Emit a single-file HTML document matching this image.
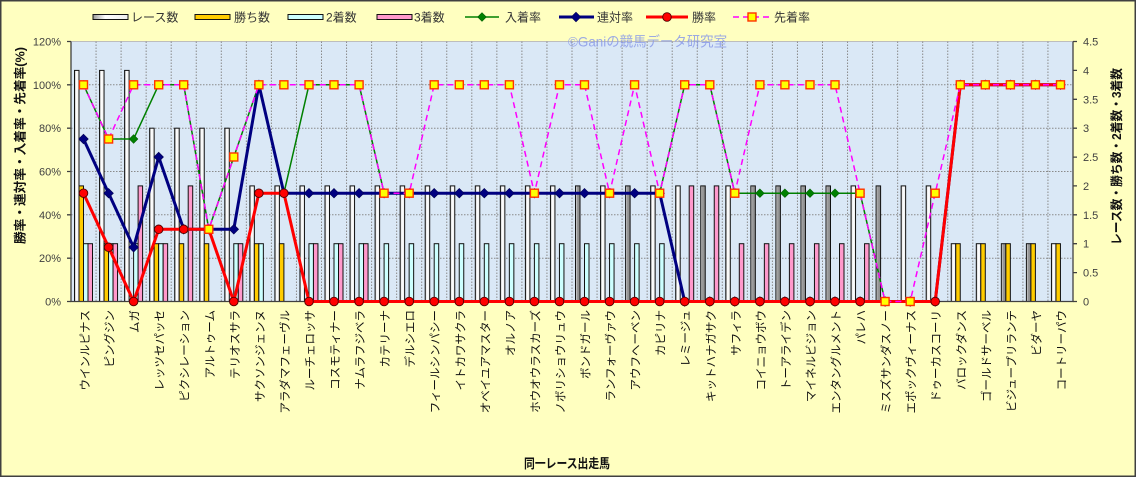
<!DOCTYPE html>
<html><head><meta charset="utf-8">
<style>
html,body{margin:0;padding:0;background:#FFFFC0;}
svg{display:block;}
text{font-family:"Liberation Sans","Noto Sans CJK JP",sans-serif;}
.r{fill:url(#gw);stroke:#111;stroke-width:1}
.rg{fill:url(#gg);stroke:#111;stroke-width:1}
.w{fill:#FFCC00;stroke:#111;stroke-width:1}
.s{fill:#CCFFFF;stroke:#111;stroke-width:1}
.t{fill:#FF99CC;stroke:#111;stroke-width:1}
.ax{font-size:11px;fill:#404040}
.xl{font-size:11.5px;fill:#111}
.lg{font-size:12px;fill:#333}
</style></head>
<body>
<svg width="1136" height="477" viewBox="0 0 1136 477" xmlns="http://www.w3.org/2000/svg">
<defs>
<linearGradient id="gw" x1="0" y1="0" x2="1" y2="0"><stop offset="0" stop-color="#9a9a9a"/><stop offset="0.35" stop-color="#ffffff"/><stop offset="1" stop-color="#eeeeee"/></linearGradient>
<linearGradient id="gg" x1="0" y1="0" x2="1" y2="0"><stop offset="0" stop-color="#ffffff"/><stop offset="0.35" stop-color="#999999"/><stop offset="1" stop-color="#8c8c8c"/></linearGradient>
<marker id="mg" viewBox="-6 -6 12 12" refX="0" refY="0" markerWidth="12" markerHeight="12" markerUnits="userSpaceOnUse" orient="0"><polygon points="0,-4.3 4.3,0 0,4.3 -4.3,0" fill="#008000" stroke="#006000" stroke-width="0.6"/></marker>
<marker id="mb" viewBox="-6 -6 12 12" refX="0" refY="0" markerWidth="12" markerHeight="12" markerUnits="userSpaceOnUse" orient="0"><polygon points="0,-4.8 4.8,0 0,4.8 -4.8,0" fill="#000080" stroke="#000050" stroke-width="0.6"/></marker>
<marker id="mr" viewBox="-6 -6 12 12" refX="0" refY="0" markerWidth="12" markerHeight="12" markerUnits="userSpaceOnUse" orient="0"><circle cx="0" cy="0" r="4.3" fill="#FF0000" stroke="#500000" stroke-width="0.9"/></marker>
<marker id="ms" viewBox="-6 -6 12 12" refX="0" refY="0" markerWidth="12" markerHeight="12" markerUnits="userSpaceOnUse" orient="0"><rect x="-4" y="-4" width="8" height="8" fill="#FFFF00" stroke="#FF3300" stroke-width="1.4"/></marker>
</defs>

<!-- outer -->
<rect x="0.75" y="0.75" width="1134.5" height="475.5" fill="#FFFFC0" stroke="#404040" stroke-width="1.5"/>

<!-- legend -->
<rect x="93" y="14.5" width="35" height="5" fill="url(#gw)" stroke="#111"/>
<text class="lg" x="131" y="21.5">レース数</text>
<rect x="195" y="14.5" width="35" height="5" fill="#FFCC00" stroke="#111"/>
<text class="lg" x="234" y="21.5">勝ち数</text>
<rect x="288" y="14.5" width="35" height="5" fill="#CCFFFF" stroke="#111"/>
<text class="lg" x="326" y="21.5">2着数</text>
<rect x="377" y="14.5" width="35" height="5" fill="#FF99CC" stroke="#111"/>
<text class="lg" x="414" y="21.5">3着数</text>
<polyline points="465,17 482,17 499,17" fill="none" stroke="#008000" stroke-width="1.5" marker-mid="url(#mg)"/>
<text class="lg" x="505" y="21.5">入着率</text>
<polyline points="559,17 576,17 594,17" fill="none" stroke="#000080" stroke-width="3" marker-mid="url(#mb)"/>
<text class="lg" x="597" y="21.5">連対率</text>
<polyline points="646,17 667,17 688,17" fill="none" stroke="#FF0000" stroke-width="3" marker-mid="url(#mr)"/>
<text class="lg" x="692" y="21.5">勝率</text>
<polyline points="733,17 752,17 771,17" fill="none" stroke="#FF00FF" stroke-width="1.5" stroke-dasharray="6,4" marker-mid="url(#ms)"/>
<text class="lg" x="774" y="21.5">先着率</text>

<!-- plot area -->
<rect x="71" y="41.5" width="1002" height="260" fill="#DAE8F6" stroke="#BDBDBD" stroke-width="1"/>
<g stroke="#8a8a8a" stroke-width="1" stroke-dasharray="1.5,1.5" fill="none">
<path d="M71 258.2H1073M71 214.8H1073M71 171.5H1073M71 128.2H1073M71 84.8H1073"/>
<path d="M96.05 41.5V301.5M121.1 41.5V301.5M146.15 41.5V301.5M171.2 41.5V301.5M196.25 41.5V301.5M221.3 41.5V301.5M246.35 41.5V301.5M271.4 41.5V301.5M296.45 41.5V301.5M321.5 41.5V301.5M346.55 41.5V301.5M371.6 41.5V301.5M396.65 41.5V301.5M421.7 41.5V301.5M446.75 41.5V301.5M471.8 41.5V301.5M496.85 41.5V301.5M521.9 41.5V301.5M546.95 41.5V301.5M572 41.5V301.5M597.05 41.5V301.5M622.1 41.5V301.5M647.15 41.5V301.5M672.2 41.5V301.5M697.25 41.5V301.5M722.3 41.5V301.5M747.35 41.5V301.5M772.4 41.5V301.5M797.45 41.5V301.5M822.5 41.5V301.5M847.55 41.5V301.5M872.6 41.5V301.5M897.65 41.5V301.5M922.7 41.5V301.5M947.75 41.5V301.5M972.8 41.5V301.5M997.85 41.5V301.5M1022.9 41.5V301.5M1047.95 41.5V301.5"/>
</g>

<!-- watermark -->
<text x="568" y="46.5" font-size="14" fill="#8A9AE8" fill-opacity="0.85" textLength="159" lengthAdjust="spacingAndGlyphs">©Ganiの競馬データ研究室</text>

<!-- bars -->
<g transform="translate(71,0)"><rect class="r" x="3.5" y="70.4" width="4.5" height="231.1"/><rect class="w" x="8" y="185.9" width="4.5" height="115.6"/><rect class="s" x="12.5" y="243.7" width="4.5" height="57.8"/><rect class="t" x="17" y="243.7" width="4.5" height="57.8"/></g>
<g transform="translate(96.05,0)"><rect class="r" x="3.5" y="70.4" width="4.5" height="231.1"/><rect class="w" x="8" y="243.7" width="4.5" height="57.8"/><rect class="s" x="12.5" y="243.7" width="4.5" height="57.8"/><rect class="t" x="17" y="243.7" width="4.5" height="57.8"/></g>
<g transform="translate(121.1,0)"><rect class="r" x="3.5" y="70.4" width="4.5" height="231.1"/><rect class="s" x="12.5" y="243.7" width="4.5" height="57.8"/><rect class="t" x="17" y="185.9" width="4.5" height="115.6"/></g>
<g transform="translate(146.15,0)"><rect class="r" x="3.5" y="128.2" width="4.5" height="173.3"/><rect class="w" x="8" y="243.7" width="4.5" height="57.8"/><rect class="s" x="12.5" y="243.7" width="4.5" height="57.8"/><rect class="t" x="17" y="243.7" width="4.5" height="57.8"/></g>
<g transform="translate(171.2,0)"><rect class="r" x="3.5" y="128.2" width="4.5" height="173.3"/><rect class="w" x="8" y="243.7" width="4.5" height="57.8"/><rect class="t" x="17" y="185.9" width="4.5" height="115.6"/></g>
<g transform="translate(196.25,0)"><rect class="r" x="3.5" y="128.2" width="4.5" height="173.3"/><rect class="w" x="8" y="243.7" width="4.5" height="57.8"/></g>
<g transform="translate(221.3,0)"><rect class="r" x="3.5" y="128.2" width="4.5" height="173.3"/><rect class="s" x="12.5" y="243.7" width="4.5" height="57.8"/><rect class="t" x="17" y="243.7" width="4.5" height="57.8"/></g>
<g transform="translate(246.35,0)"><rect class="r" x="3.5" y="185.9" width="4.5" height="115.6"/><rect class="w" x="8" y="243.7" width="4.5" height="57.8"/><rect class="s" x="12.5" y="243.7" width="4.5" height="57.8"/></g>
<g transform="translate(271.4,0)"><rect class="r" x="3.5" y="185.9" width="4.5" height="115.6"/><rect class="w" x="8" y="243.7" width="4.5" height="57.8"/></g>
<g transform="translate(296.45,0)"><rect class="r" x="3.5" y="185.9" width="4.5" height="115.6"/><rect class="s" x="12.5" y="243.7" width="4.5" height="57.8"/><rect class="t" x="17" y="243.7" width="4.5" height="57.8"/></g>
<g transform="translate(321.5,0)"><rect class="r" x="3.5" y="185.9" width="4.5" height="115.6"/><rect class="s" x="12.5" y="243.7" width="4.5" height="57.8"/><rect class="t" x="17" y="243.7" width="4.5" height="57.8"/></g>
<g transform="translate(346.55,0)"><rect class="r" x="3.5" y="185.9" width="4.5" height="115.6"/><rect class="s" x="12.5" y="243.7" width="4.5" height="57.8"/><rect class="t" x="17" y="243.7" width="4.5" height="57.8"/></g>
<g transform="translate(371.6,0)"><rect class="r" x="3.5" y="185.9" width="4.5" height="115.6"/><rect class="s" x="12.5" y="243.7" width="4.5" height="57.8"/></g>
<g transform="translate(396.65,0)"><rect class="r" x="3.5" y="185.9" width="4.5" height="115.6"/><rect class="s" x="12.5" y="243.7" width="4.5" height="57.8"/></g>
<g transform="translate(421.7,0)"><rect class="r" x="3.5" y="185.9" width="4.5" height="115.6"/><rect class="s" x="12.5" y="243.7" width="4.5" height="57.8"/></g>
<g transform="translate(446.75,0)"><rect class="r" x="3.5" y="185.9" width="4.5" height="115.6"/><rect class="s" x="12.5" y="243.7" width="4.5" height="57.8"/></g>
<g transform="translate(471.8,0)"><rect class="r" x="3.5" y="185.9" width="4.5" height="115.6"/><rect class="s" x="12.5" y="243.7" width="4.5" height="57.8"/></g>
<g transform="translate(496.85,0)"><rect class="r" x="3.5" y="185.9" width="4.5" height="115.6"/><rect class="s" x="12.5" y="243.7" width="4.5" height="57.8"/></g>
<g transform="translate(521.9,0)"><rect class="r" x="3.5" y="185.9" width="4.5" height="115.6"/><rect class="s" x="12.5" y="243.7" width="4.5" height="57.8"/></g>
<g transform="translate(546.95,0)"><rect class="r" x="3.5" y="185.9" width="4.5" height="115.6"/><rect class="s" x="12.5" y="243.7" width="4.5" height="57.8"/></g>
<g transform="translate(572,0)"><rect class="rg" x="3.5" y="185.9" width="4.5" height="115.6"/><rect class="s" x="12.5" y="243.7" width="4.5" height="57.8"/></g>
<g transform="translate(597.05,0)"><rect class="r" x="3.5" y="185.9" width="4.5" height="115.6"/><rect class="s" x="12.5" y="243.7" width="4.5" height="57.8"/></g>
<g transform="translate(622.1,0)"><rect class="rg" x="3.5" y="185.9" width="4.5" height="115.6"/><rect class="s" x="12.5" y="243.7" width="4.5" height="57.8"/></g>
<g transform="translate(647.15,0)"><rect class="r" x="3.5" y="185.9" width="4.5" height="115.6"/><rect class="s" x="12.5" y="243.7" width="4.5" height="57.8"/></g>
<g transform="translate(672.2,0)"><rect class="r" x="3.5" y="185.9" width="4.5" height="115.6"/><rect class="t" x="17" y="185.9" width="4.5" height="115.6"/></g>
<g transform="translate(697.25,0)"><rect class="rg" x="3.5" y="185.9" width="4.5" height="115.6"/><rect class="t" x="17" y="185.9" width="4.5" height="115.6"/></g>
<g transform="translate(722.3,0)"><rect class="r" x="3.5" y="185.9" width="4.5" height="115.6"/><rect class="t" x="17" y="243.7" width="4.5" height="57.8"/></g>
<g transform="translate(747.35,0)"><rect class="rg" x="3.5" y="185.9" width="4.5" height="115.6"/><rect class="t" x="17" y="243.7" width="4.5" height="57.8"/></g>
<g transform="translate(772.4,0)"><rect class="rg" x="3.5" y="185.9" width="4.5" height="115.6"/><rect class="t" x="17" y="243.7" width="4.5" height="57.8"/></g>
<g transform="translate(797.45,0)"><rect class="rg" x="3.5" y="185.9" width="4.5" height="115.6"/><rect class="t" x="17" y="243.7" width="4.5" height="57.8"/></g>
<g transform="translate(822.5,0)"><rect class="rg" x="3.5" y="185.9" width="4.5" height="115.6"/><rect class="t" x="17" y="243.7" width="4.5" height="57.8"/></g>
<g transform="translate(847.55,0)"><rect class="r" x="3.5" y="185.9" width="4.5" height="115.6"/><rect class="t" x="17" y="243.7" width="4.5" height="57.8"/></g>
<g transform="translate(872.6,0)"><rect class="rg" x="3.5" y="185.9" width="4.5" height="115.6"/></g>
<g transform="translate(897.65,0)"><rect class="r" x="3.5" y="185.9" width="4.5" height="115.6"/></g>
<g transform="translate(922.7,0)"><rect class="r" x="3.5" y="185.9" width="4.5" height="115.6"/></g>
<g transform="translate(947.75,0)"><rect class="r" x="3.5" y="243.7" width="4.5" height="57.8"/><rect class="w" x="8" y="243.7" width="4.5" height="57.8"/></g>
<g transform="translate(972.8,0)"><rect class="r" x="3.5" y="243.7" width="4.5" height="57.8"/><rect class="w" x="8" y="243.7" width="4.5" height="57.8"/></g>
<g transform="translate(997.85,0)"><rect class="rg" x="3.5" y="243.7" width="4.5" height="57.8"/><rect class="w" x="8" y="243.7" width="4.5" height="57.8"/></g>
<g transform="translate(1022.9,0)"><rect class="rg" x="3.5" y="243.7" width="4.5" height="57.8"/><rect class="w" x="8" y="243.7" width="4.5" height="57.8"/></g>
<g transform="translate(1047.95,0)"><rect class="r" x="3.5" y="243.7" width="4.5" height="57.8"/><rect class="w" x="8" y="243.7" width="4.5" height="57.8"/></g>

<!-- axes -->
<g stroke="#404040" stroke-width="1.3" fill="none">
<path d="M71 41.5V301.5H1073V41.5"/>
<path d="M67 301.5H71M67 258.2H71M67 214.8H71M67 171.5H71M67 128.2H71M67 84.8H71M67 41.5H71"/>
<path d="M1073 301.5H1077M1073 272.6H1077M1073 243.7H1077M1073 214.8H1077M1073 185.9H1077M1073 157.1H1077M1073 128.2H1077M1073 99.3H1077M1073 70.4H1077M1073 41.5H1077"/>
</g>

<!-- lines -->
<polyline fill="none" stroke="#008000" stroke-width="1.5" stroke-linejoin="round" marker-start="url(#mg)" marker-mid="url(#mg)" marker-end="url(#mg)" points="83.5,84.8 108.6,139 133.6,139 158.7,84.8 183.7,84.8 208.8,229.3 233.8,157 258.9,84.8 283.9,193.2 309,84.8 334,84.8 359.1,84.8 384.1,193.2 409.2,193.2 434.2,193.2 459.3,193.2 484.3,193.2 509.4,193.2 534.4,193.2 559.5,193.2 584.5,193.2 609.6,193.2 634.6,193.2 659.7,193.2 684.7,84.8 709.8,84.8 734.8,193.2 759.9,193.2 784.9,193.2 810,193.2 835,193.2 860.1,193.2 885.1,301.5 910.2,301.5 935.2,301.5 960.3,84.8 985.3,84.8 1010.4,84.8 1035.4,84.8 1060.5,84.8"/>
<polyline fill="none" stroke="#000080" stroke-width="3" stroke-linejoin="round" marker-start="url(#mb)" marker-mid="url(#mb)" marker-end="url(#mb)" points="83.5,139 108.6,193.2 133.6,247.3 158.7,157 183.7,229.3 208.8,229.3 233.8,229.3 258.9,84.8 283.9,193.2 309,193.2 334,193.2 359.1,193.2 384.1,193.2 409.2,193.2 434.2,193.2 459.3,193.2 484.3,193.2 509.4,193.2 534.4,193.2 559.5,193.2 584.5,193.2 609.6,193.2 634.6,193.2 659.7,193.2 684.7,301.5 709.8,301.5 734.8,301.5 759.9,301.5 784.9,301.5 810,301.5 835,301.5 860.1,301.5 885.1,301.5 910.2,301.5 935.2,301.5 960.3,84.8 985.3,84.8 1010.4,84.8 1035.4,84.8 1060.5,84.8"/>
<polyline fill="none" stroke="#FF0000" stroke-width="3" stroke-linejoin="round" marker-start="url(#mr)" marker-mid="url(#mr)" marker-end="url(#mr)" points="83.5,193.2 108.6,247.3 133.6,301.5 158.7,229.3 183.7,229.3 208.8,229.3 233.8,301.5 258.9,193.2 283.9,193.2 309,301.5 334,301.5 359.1,301.5 384.1,301.5 409.2,301.5 434.2,301.5 459.3,301.5 484.3,301.5 509.4,301.5 534.4,301.5 559.5,301.5 584.5,301.5 609.6,301.5 634.6,301.5 659.7,301.5 684.7,301.5 709.8,301.5 734.8,301.5 759.9,301.5 784.9,301.5 810,301.5 835,301.5 860.1,301.5 885.1,301.5 910.2,301.5 935.2,301.5 960.3,84.8 985.3,84.8 1010.4,84.8 1035.4,84.8 1060.5,84.8"/>
<polyline fill="none" stroke="#FF00FF" stroke-width="1.5" stroke-dasharray="6,4" marker-start="url(#ms)" marker-mid="url(#ms)" marker-end="url(#ms)" points="83.5,84.8 108.6,139 133.6,84.8 158.7,84.8 183.7,84.8 208.8,229.3 233.8,157 258.9,84.8 283.9,84.8 309,84.8 334,84.8 359.1,84.8 384.1,193.2 409.2,193.2 434.2,84.8 459.3,84.8 484.3,84.8 509.4,84.8 534.4,193.2 559.5,84.8 584.5,84.8 609.6,193.2 634.6,84.8 659.7,193.2 684.7,84.8 709.8,84.8 734.8,193.2 759.9,84.8 784.9,84.8 810,84.8 835,84.8 860.1,193.2 885.1,301.5 910.2,301.5 935.2,193.2 960.3,84.8 985.3,84.8 1010.4,84.8 1035.4,84.8 1060.5,84.8"/>

<!-- left axis labels -->
<g class="ax" text-anchor="end">
<text x="61" y="305.5">0%</text>
<text x="61" y="262.2">20%</text>
<text x="61" y="218.8">40%</text>
<text x="61" y="175.5">60%</text>
<text x="61" y="132.2">80%</text>
<text x="61" y="88.8">100%</text>
<text x="61" y="45.5">120%</text>
</g>
<!-- right axis labels -->
<g class="ax">
<text x="1083" y="305.5">0</text>
<text x="1083" y="276.6">0.5</text>
<text x="1083" y="247.7">1</text>
<text x="1083" y="218.8">1.5</text>
<text x="1083" y="189.9">2</text>
<text x="1083" y="161.1">2.5</text>
<text x="1083" y="132.2">3</text>
<text x="1083" y="103.3">3.5</text>
<text x="1083" y="74.4">4</text>
<text x="1083" y="45.5">4.5</text>
</g>

<!-- axis titles -->
<text transform="translate(24.5,244) rotate(-90)" font-size="12.5" font-weight="bold" fill="#111" textLength="197" lengthAdjust="spacingAndGlyphs">勝率・連対率・入着率・先着率(%)</text>
<text transform="translate(1121,245) rotate(-90)" font-size="12.5" font-weight="bold" fill="#111" textLength="177" lengthAdjust="spacingAndGlyphs">レース数・勝ち数・2着数・3着数</text>
<text x="524" y="468" font-size="13" font-weight="bold" fill="#111" textLength="86" lengthAdjust="spacingAndGlyphs">同一レース出走馬</text>

<!-- x labels -->
<g class="xl" text-anchor="end">
<text transform="translate(89,310) rotate(-90)">ウインルピナス</text>
<text transform="translate(113.6,310) rotate(-90)">ピングジン</text>
<text transform="translate(138.6,310) rotate(-90)">ムガ</text>
<text transform="translate(163.7,310) rotate(-90)">レッツセパッセ</text>
<text transform="translate(188.7,310) rotate(-90)">ピクシレーション</text>
<text transform="translate(213.8,310) rotate(-90)">アルトゥーム</text>
<text transform="translate(238.8,310) rotate(-90)">テリオスサラ</text>
<text transform="translate(263.9,310) rotate(-90)">サクソンジェンヌ</text>
<text transform="translate(288.9,310) rotate(-90)">アラダマフェーヴル</text>
<text transform="translate(314,310) rotate(-90)">ルーチェロッサ</text>
<text transform="translate(339,310) rotate(-90)">コスモティナー</text>
<text transform="translate(364.1,310) rotate(-90)">ナムラフジベラ</text>
<text transform="translate(389.1,310) rotate(-90)">カテリーナ</text>
<text transform="translate(414.2,310) rotate(-90)">デルシエロ</text>
<text transform="translate(439.2,310) rotate(-90)">フィールシンパシー</text>
<text transform="translate(464.3,310) rotate(-90)">イトカワサクラ</text>
<text transform="translate(489.3,310) rotate(-90)">オベイユアマスター</text>
<text transform="translate(514.4,310) rotate(-90)">オルノア</text>
<text transform="translate(539.4,310) rotate(-90)">ホウオウラスカーズ</text>
<text transform="translate(564.5,310) rotate(-90)">ノボリショウリュウ</text>
<text transform="translate(589.5,310) rotate(-90)">ボンドガール</text>
<text transform="translate(614.6,310) rotate(-90)">ランフォーヴァウ</text>
<text transform="translate(639.6,310) rotate(-90)">アウフヘーベン</text>
<text transform="translate(664.7,310) rotate(-90)">カピリナ</text>
<text transform="translate(689.7,310) rotate(-90)">レミージュ</text>
<text transform="translate(714.8,310) rotate(-90)">キットハナガサク</text>
<text transform="translate(739.8,310) rotate(-90)">サフィラ</text>
<text transform="translate(764.9,310) rotate(-90)">コイニョウボウ</text>
<text transform="translate(789.9,310) rotate(-90)">トーアライデン</text>
<text transform="translate(815,310) rotate(-90)">マイネルビジョン</text>
<text transform="translate(840,310) rotate(-90)">エンタングルメント</text>
<text transform="translate(865.1,310) rotate(-90)">パレハ</text>
<text transform="translate(890.1,310) rotate(-90)">ミスズサンダスノー</text>
<text transform="translate(915.2,310) rotate(-90)">エポックヴィーナス</text>
<text transform="translate(940.2,310) rotate(-90)">ドゥーカスコーリ</text>
<text transform="translate(965.3,310) rotate(-90)">バロックダンス</text>
<text transform="translate(990.3,310) rotate(-90)">ゴールドサーベル</text>
<text transform="translate(1015.4,310) rotate(-90)">ビジュープリランテ</text>
<text transform="translate(1040.4,310) rotate(-90)">ビダーヤ</text>
<text transform="translate(1065.5,310) rotate(-90)">コートリーパウ</text>
</g>
</svg>
</body></html>
